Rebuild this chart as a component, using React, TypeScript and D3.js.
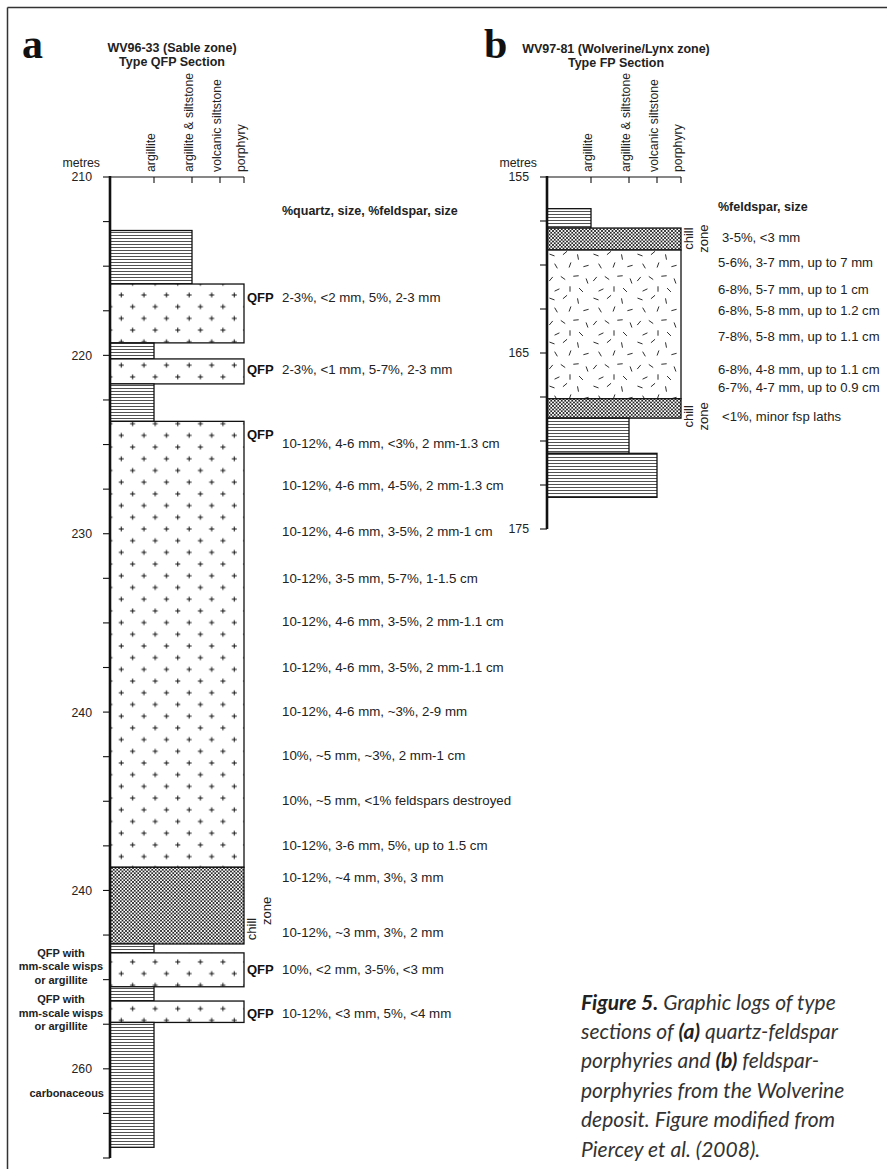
import React from "react";
import * as d3 from "d3";

// Lithology columns shown across the top of each graphic log
const columns = ["argillite", "argillite & siltstone", "volcanic siltstone", "porphyry"];

// Section a — WV96-33 (Sable zone), depths in metres
const unitsA = [
  { top: 213.0, base: 216.0, column: "argillite & siltstone", fill: "hatch" },
  { top: 216.0, base: 219.3, column: "porphyry", fill: "qfp" },
  { top: 219.3, base: 220.2, column: "argillite", fill: "hatch" },
  { top: 220.2, base: 221.6, column: "porphyry", fill: "qfp" },
  { top: 221.6, base: 223.7, column: "argillite", fill: "hatch" },
  { top: 223.7, base: 248.7, column: "porphyry", fill: "qfp" },
  { top: 248.7, base: 253.0, column: "porphyry", fill: "chill" },
  { top: 253.0, base: 253.5, column: "argillite", fill: "hatch" },
  { top: 253.5, base: 255.4, column: "porphyry", fill: "qfp" },
  { top: 255.4, base: 256.2, column: "argillite", fill: "hatch" },
  { top: 256.2, base: 257.4, column: "porphyry", fill: "qfp" },
  { top: 257.4, base: 264.4, column: "argillite", fill: "hatch" },
];
const depthRangeA = [210, 265];
const labelDepthsA = [210, 220, 230, 240, 250, 260];
const labelTextA = ["210", "220", "230", "240", "240", "260"];

const notesA = [
  { depth: 224.9, text: "10-12%, 4-6 mm, <3%, 2 mm-1.3 cm" },
  { depth: 227.27, text: "10-12%, 4-6 mm, 4-5%, 2 mm-1.3 cm" },
  { depth: 229.85, text: "10-12%, 4-6 mm, 3-5%, 2 mm-1 cm" },
  { depth: 232.48, text: "10-12%, 3-5 mm, 5-7%, 1-1.5 cm" },
  { depth: 234.89, text: "10-12%, 4-6 mm, 3-5%, 2 mm-1.1 cm" },
  { depth: 237.47, text: "10-12%, 4-6 mm, 3-5%, 2 mm-1.1 cm" },
  { depth: 239.94, text: "10-12%, 4-6 mm, ~3%, 2-9 mm" },
  { depth: 242.41, text: "10%, ~5 mm, ~3%, 2 mm-1 cm" },
  { depth: 244.93, text: "10%, ~5 mm, <1% feldspars destroyed" },
  { depth: 247.45, text: "10-12%, 3-6 mm, 5%, up to 1.5 cm" },
  { depth: 249.25, text: "10-12%, ~4 mm, 3%, 3 mm" },
  { depth: 252.33, text: "10-12%, ~3 mm, 3%, 2 mm" },
  { depth: 216.73, text: "2-3%, <2 mm, 5%, 2-3 mm" },
  { depth: 220.76, text: "2-3%, <1 mm, 5-7%, 2-3 mm" },
  { depth: 254.4, text: "10%, <2 mm, 3-5%, <3 mm" },
  { depth: 256.87, text: "10-12%, <3 mm, 5%, <4 mm" },
];
const qfpLabelDepthsA = [216.73, 220.76, 224.4, 254.4, 256.87];
const sideNotesA = [
  { depth: 254.24, lines: ["QFP with", "mm-scale wisps", "or argillite"] },
  { depth: 256.87, lines: ["QFP with", "mm-scale wisps", "or argillite"] },
];
const carbonaceousDepthA = 261.36;
const chillLabelDepthsA = [252.16, 251.15];

// Section b — WV97-81 (Wolverine/Lynx zone)
const unitsB = [
  { top: 156.8, base: 157.9, column: "argillite", fill: "hatch" },
  { top: 157.9, base: 159.15, column: "porphyry", fill: "chill" },
  { top: 159.15, base: 167.6, column: "porphyry", fill: "fp" },
  { top: 167.6, base: 168.7, column: "porphyry", fill: "chill" },
  { top: 168.7, base: 170.7, column: "argillite & siltstone", fill: "hatch" },
  { top: 170.7, base: 173.2, column: "volcanic siltstone", fill: "hatch" },
];
const depthRangeB = [155, 175];
const labelDepthsB = [155, 165, 175];
const notesB = [
  { depth: 158.41, text: "3-5%, <3 mm" },
  { depth: 159.83, text: "5-6%, 3-7 mm, up to 7 mm" },
  { depth: 161.36, text: "6-8%, 5-7 mm, up to 1 cm" },
  { depth: 162.56, text: "6-8%, 5-8 mm, up to 1.2 cm" },
  { depth: 164.03, text: "7-8%, 5-8 mm, up to 1.1 cm" },
  { depth: 165.91, text: "6-8%, 4-8 mm, up to 1.1 cm" },
  { depth: 166.93, text: "6-7%, 4-7 mm, up to 0.9 cm" },
  { depth: 168.58, text: "<1%, minor fsp laths" },
];
const chillLabelDepthsB = [158.5, 168.6];

const captionLines: Array<Array<[string, boolean]>> = [
  [["Figure 5.", true], [" Graphic logs of type", false]],
  [["sections of ", false], ["(a)", true], [" quartz-feldspar", false]],
  [["porphyries and ", false], ["(b)", true], [" feldspar-", false]],
  [["porphyries from the Wolverine", false]],
  [["deposit. Figure modified from", false]],
  [["Piercey et al. (2008).", false]],
];

// Feldspar-lath texture: short strokes [x, y, angle°] within one 44px tile
const lathTile: Array<[number, number, number]> = [
  [5, 5, 20], [18, 3, -40], [31, 7, 80], [39, 16, -15], [9, 16, 60],
  [23, 15, -70], [4, 29, -50], [16, 28, 35], [29, 26, -5], [40, 31, 70],
  [10, 40, -25], [23, 39, 90], [34, 40, 45],
];

const SANS = "'Liberation Sans', Arial, Helvetica, sans-serif";
const colOffset = d3.scaleOrdinal<string, number>().domain(columns).range([44, 82, 110, 134]);

function LogFrame({ axisX, y, range, labelDepths, labelText }: any) {
  const minor = d3.range(range[0], range[1] + 0.01, 2.5);
  const top = y(range[0]);
  return (
    <g>
      {minor.map((d: number) => (
        <line key={d} x1={axisX - 7} x2={axisX} y1={y(d)} y2={y(d)} stroke="#111" strokeWidth={1.1} />
      ))}
      {labelDepths.map((d: number, i: number) => (
        <text key={i} x={axisX - 18} y={y(d)} dy="0.36em" textAnchor="end" fontSize={12.3} fontFamily={SANS} fill="#222">
          {labelText[i]}
        </text>
      ))}
      <text x={axisX - 10} y={top - 10} textAnchor="end" fontSize={12.3} fontFamily={SANS} fill="#222">metres</text>
      <line x1={axisX} x2={axisX + colOffset("porphyry")} y1={top} y2={top} stroke="#111" strokeWidth={1.2} />
      {columns.map((c) => (
        <g key={c}>
          <line x1={axisX + colOffset(c)} x2={axisX + colOffset(c)} y1={top} y2={top + 6} stroke="#111" strokeWidth={1.1} />
          <text transform={`translate(${axisX + colOffset(c) + 1},${top - 5}) rotate(-90)`} fontSize={12.3} fontFamily={SANS} fill="#222">
            {c}
          </text>
        </g>
      ))}
    </g>
  );
}

function Units({ axisX, y, units }: any) {
  return (
    <g>
      {units.map((u: any, i: number) => (
        <rect
          key={i}
          x={axisX}
          y={y(u.top)}
          width={colOffset(u.column)}
          height={y(u.base) - y(u.top)}
          fill={`url(#pat-${u.fill})`}
          stroke="#111"
          strokeWidth={1.3}
        />
      ))}
    </g>
  );
}

function Axis({ axisX, y, range }: any) {
  return <line x1={axisX} x2={axisX} y1={y(range[0]) - 1} y2={y(range[1])} stroke="#111" strokeWidth={2.6} />;
}

function ChillLabel({ x, yChill, yZone }: any) {
  return (
    <g fontSize={13} fontFamily={SANS} fill="#222" textAnchor="middle">
      <text transform={`translate(${x + 12},${yChill}) rotate(-90)`}>chill</text>
      <text transform={`translate(${x + 27},${yZone}) rotate(-90)`}>zone</text>
    </g>
  );
}

export default function App() {
  const axisA = 110;
  const axisB = 547;
  const yA = d3.scaleLinear().domain(depthRangeA).range([177, 1158]);
  const yB = d3.scaleLinear().domain(depthRangeB).range([177, 529]);
  const porphA = axisA + colOffset("porphyry");
  const porphB = axisB + colOffset("porphyry");
  const captionBaselines = [1010, 1039, 1068, 1098, 1127, 1157];

  return (
    <svg width={887} height={1169} style={{ position: "absolute", left: 0, top: 0, background: "#fff" }}>
      <defs>
        <pattern id="pat-hatch" patternUnits="userSpaceOnUse" width={8} height={3}>
          <rect width={8} height={3} fill="#fff" />
          <line x1={0} x2={8} y1={1.5} y2={1.5} stroke="#333" strokeWidth={0.85} />
        </pattern>
        <pattern id="pat-chill" patternUnits="userSpaceOnUse" width={3.5} height={3.5}>
          <rect width={3.5} height={3.5} fill="#fff" />
          <path d="M0,0L3.5,3.5M3.5,0L0,3.5" stroke="#111" strokeWidth={0.8} />
        </pattern>
        <pattern id="pat-qfp" patternUnits="userSpaceOnUse" x={104.35} y={289.15} width={22.6} height={23.4}>
          <rect width={22.6} height={23.4} fill="#fff" />
          <path d="M14.45,5.85h5M16.95,3.35v5M3.15,17.55h5M5.65,15.05v5" stroke="#111" strokeWidth={1} />
        </pattern>
        <pattern id="pat-fp" patternUnits="userSpaceOnUse" x={547} y={250} width={44} height={44}>
          <rect width={44} height={44} fill="#fff" />
          {lathTile.map(([x, yy, a], i) => {
            const r = (a * Math.PI) / 180;
            const dx = 2.7 * Math.cos(r);
            const dy = 2.7 * Math.sin(r);
            return <line key={i} x1={x - dx} y1={yy - dy} x2={x + dx} y2={yy + dy} stroke="#222" strokeWidth={0.95} />;
          })}
        </pattern>
      </defs>

      {/* page frame */}
      <line x1={7.5} x2={887} y1={7.5} y2={7.5} stroke="#333" strokeWidth={1.5} />
      <line x1={7.5} x2={7.5} y1={7.5} y2={1169} stroke="#333" strokeWidth={1.5} />

      {/* ---- Section a ---- */}
      <text x={22} y={58} fontSize={42} fontWeight="bold" fontFamily="'Liberation Serif', 'Times New Roman', serif" fill="#111">a</text>
      <g fontFamily={SANS} fontWeight="bold" fontSize={12.5} fill="#222" textAnchor="middle">
        <text x={172} y={52}>WV96-33 (Sable zone)</text>
        <text x={172} y={66}>Type QFP Section</text>
      </g>
      <Units axisX={axisA} y={yA} units={unitsA} />
      <LogFrame axisX={axisA} y={yA} range={depthRangeA} labelDepths={labelDepthsA} labelText={labelTextA} />
      <Axis axisX={axisA} y={yA} range={depthRangeA} />
      <ChillLabel x={porphA} yChill={yA(chillLabelDepthsA[0])} yZone={yA(chillLabelDepthsA[1])} />

      <text x={282} y={yA(211.9)} dy="0.36em" fontSize={12.5} fontWeight="bold" fontFamily={SANS} fill="#222">
        %quartz, size, %feldspar, size
      </text>
      {qfpLabelDepthsA.map((d, i) => (
        <text key={i} x={porphA + 3} y={yA(d)} dy="0.36em" fontSize={13} fontWeight="bold" fontFamily={SANS} fill="#111">
          QFP
        </text>
      ))}
      {notesA.map((n, i) => (
        <text key={i} x={282} y={yA(n.depth)} dy="0.36em" fontSize={13.3} fontFamily={SANS} fill="#222">
          {n.text}
        </text>
      ))}
      {sideNotesA.map((n, i) => (
        <g key={i} fontSize={11} fontWeight="bold" fontFamily={SANS} fill="#222" textAnchor="middle">
          {n.lines.map((l, j) => (
            <text key={j} x={61} y={yA(n.depth) + (j - 1) * 13.5} dy="0.36em">{l}</text>
          ))}
        </g>
      ))}
      <text x={104} y={yA(carbonaceousDepthA)} dy="0.36em" textAnchor="end" fontSize={11} fontWeight="bold" fontFamily={SANS} fill="#222">
        carbonaceous
      </text>

      {/* ---- Section b ---- */}
      <text x={484} y={58} fontSize={42} fontWeight="bold" fontFamily="'Liberation Serif', 'Times New Roman', serif" fill="#111">b</text>
      <g fontFamily={SANS} fontWeight="bold" fontSize={12.5} fill="#222" textAnchor="middle">
        <text x={616} y={53}>WV97-81 (Wolverine/Lynx zone)</text>
        <text x={616} y={67}>Type FP Section</text>
      </g>
      <Units axisX={axisB} y={yB} units={unitsB} />
      <LogFrame axisX={axisB} y={yB} range={depthRangeB} labelDepths={labelDepthsB} labelText={labelDepthsB.map(String)} />
      <Axis axisX={axisB} y={yB} range={depthRangeB} />
      {chillLabelDepthsB.map((d, i) => (
        <ChillLabel key={i} x={porphB} yChill={yB(d)} yZone={yB(d)} />
      ))}
      <text x={718} y={yB(156.65)} dy="0.36em" fontSize={12.5} fontWeight="bold" fontFamily={SANS} fill="#222">
        %feldspar, size
      </text>
      {notesB.map((n, i) => (
        <text key={i} x={i === 0 || i === notesB.length - 1 ? 722 : 718} y={yB(n.depth)} dy="0.36em" fontSize={13.1} fontFamily={SANS} fill="#222">
          {n.text}
        </text>
      ))}

      {/* ---- Caption ---- */}
      <g fontFamily="Lato, 'Open Sans', sans-serif" fontStyle="italic" fontSize={21} fill="#333">
        {captionLines.map((line, i) => (
          <text key={i} x={581} y={captionBaselines[i]} style={{ whiteSpace: "pre" }}>
            {line.map(([t, b], j) => (
              <tspan key={j} fontWeight={b ? "bold" : "normal"} fill={b ? "#222" : "#333"}>{t}</tspan>
            ))}
          </text>
        ))}
      </g>
    </svg>
  );
}
